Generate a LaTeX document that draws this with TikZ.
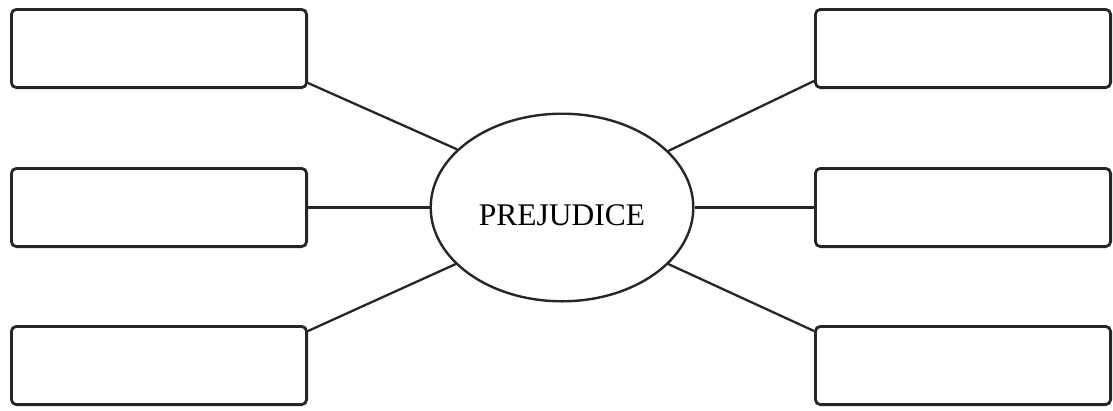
\documentclass[tikz,border=0pt]{standalone}
\usepackage{fontspec}
\setmainfont{Liberation Serif}
\usetikzlibrary{shapes.geometric}
\begin{document}
\begin{tikzpicture}[x=1pt,y=-1pt,
  blankbox/.style={draw=black!85, line width=2.8pt, rounded corners=5pt, inner sep=0pt,
    minimum width=295.2pt, minimum height=78.2pt, fill=white},
  hub/.style={ellipse, draw=black!85, line width=2.4pt, inner sep=0pt,
    minimum width=262.6pt, minimum height=187.6pt, fill=white,
    text height=36pt, text depth=0pt,
    font=\fontsize{31.5}{36}\selectfont},
  link/.style={draw=black!85, line width=2.3pt}]
\useasboundingbox (0,0) rectangle (1113,410);
\node[blankbox] (l1) at (159,48.5) {};
\node[blankbox] (l2) at (159,207.5) {};
\node[blankbox] (l3) at (159,365.5) {};
\node[blankbox] (r1) at (963,48.5) {};
\node[blankbox] (r2) at (963,207.5) {};
\node[blankbox] (r3) at (963,365.5) {};
\node[hub] (c) at (562,207.5) {PREJUDICE};
\draw[link] ([yshift=6pt]l1.south east) -- (c.151.5);
\draw[link] (l2.east) -- (c.west);
\draw[link] ([yshift=-6pt]l3.north east) -- (c.208.5);
\draw[link] ([yshift=8pt]r1.south west) -- (c.28.5);
\draw[link] (r2.west) -- (c.east);
\draw[link] ([yshift=-6pt]r3.north west) -- (c.-28.5);
\end{tikzpicture}
\end{document}
